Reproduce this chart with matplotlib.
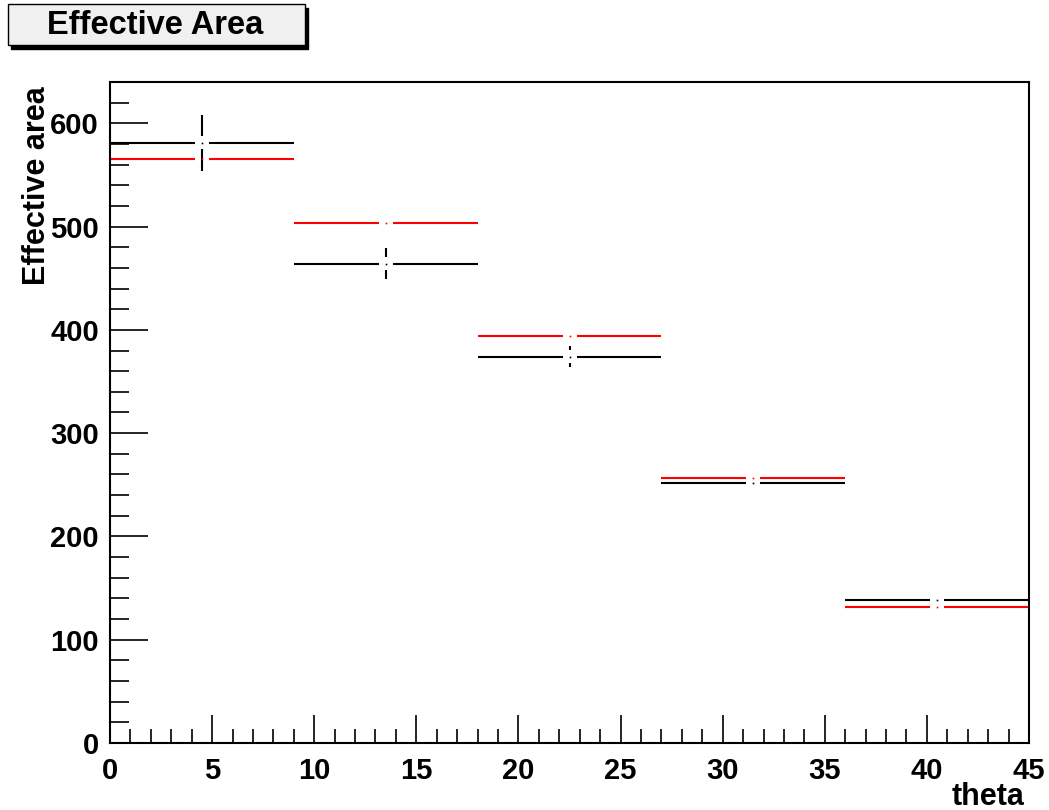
import numpy as np
import matplotlib.pyplot as plt
from matplotlib.patches import Rectangle

plt.rcParams['font.family'] = ['Liberation Sans', 'DejaVu Sans']
plt.rcParams['font.weight'] = 'bold'

# Histogram bins (theta) and contents
bin_edges = [0, 9, 18, 27, 36, 45]
black_vals = [581, 464, 374, 252, 138]
black_errs = [27, 15, 10, 5, 3]
red_vals = [565, 503, 394, 257, 132]
red_errs = [3, 2, 2, 2, 1]

XMAX = 45
YMAX = 640

W, H = 1049, 810
AX_L, AX_R, AX_T, AX_B = 110, 1029, 82, 743

fig = plt.figure(figsize=(W / 100, H / 100), dpi=100)
ax = fig.add_axes([AX_L / W, 1 - AX_B / H, (AX_R - AX_L) / W, (AX_B - AX_T) / H])
ax.set_xlim(0, XMAX)
ax.set_ylim(0, YMAX)

# gap around the bin centre, in pixels -> data units
gx = 7 * XMAX / (AX_R - AX_L)
gy = 6.5 * YMAX / (AX_B - AX_T)


def draw_hist(vals, errs, color):
    for lo, hi, v, e in zip(bin_edges[:-1], bin_edges[1:], vals, errs):
        c = 0.5 * (lo + hi)
        ax.plot([lo, c - gx], [v, v], color=color, lw=1.5, solid_capstyle='butt')
        ax.plot([c + gx, hi], [v, v], color=color, lw=1.5, solid_capstyle='butt')
        ax.plot([c], [v], marker='s', ms=1.2, mew=0, color=color)
        if e > gy:
            ax.plot([c, c], [v + gy, v + e], color=color, lw=1.5, solid_capstyle='butt')
            ax.plot([c, c], [v - e, v - gy], color=color, lw=1.5, solid_capstyle='butt')


draw_hist(black_vals, black_errs, 'black')
draw_hist(red_vals, red_errs, '#ff0000')

for s in ax.spines.values():
    s.set_linewidth(1.5)

ax.set_xticks(np.arange(0, 46, 5))
ax.set_xticks(np.arange(0, 46, 1), minor=True)
ax.set_yticks(np.arange(0, 601, 100))
ax.set_yticks(np.arange(0, 641, 20), minor=True)
ax.tick_params(direction='in', which='major', length=20, width=1.2, labelsize=21, pad=10)
ax.tick_params(direction='in', which='minor', length=10, width=1.2)
ax.tick_params(axis='y', which='major', length=27, pad=8)
ax.tick_params(axis='y', which='minor', length=14)
for lab in ax.get_xticklabels() + ax.get_yticklabels():
    lab.set_fontweight('bold')

fig.text(1025 / W, 1 - 805 / H, 'theta', ha='right', va='baseline',
         fontsize=22, fontweight='bold')
fig.text(37 / W, 1 - 86 / H, 'Effective area', rotation=90, ha='center', va='top',
         fontsize=22, fontweight='bold')

# title box with shadow
fig.patches.append(Rectangle((11 / W, 1 - 49 / H), 297 / W, 41 / H,
                             transform=fig.transFigure, facecolor='black',
                             edgecolor='black', zorder=1))
fig.patches.append(Rectangle((8 / W, 1 - 45 / H), 297 / W, 41 / H,
                             transform=fig.transFigure, facecolor='#f0f0f0',
                             edgecolor='black', lw=1, zorder=2))
fig.text(155 / W, 1 - 25 / H, 'Effective Area', ha='center', va='center',
         fontsize=23.5, fontweight='bold', zorder=3)

fig.savefig('out.png', dpi=100)
